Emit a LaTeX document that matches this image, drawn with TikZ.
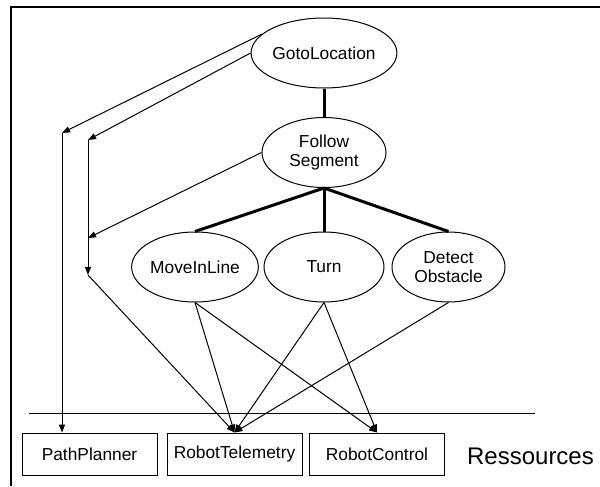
\documentclass[tikz,border=0pt]{standalone}
\usepackage{fontspec}
\setmainfont{Liberation Sans}
\usetikzlibrary{shapes.geometric,arrows.meta}

\begin{document}
\begin{tikzpicture}[x=0.75pt,y=-0.75pt,
    task/.style={draw,ellipse,line width=0.75pt,inner sep=0pt,minimum height=52.5pt,align=center,font=\fontsize{13}{14}\selectfont},
    res/.style={draw,rectangle,line width=0.75pt,inner sep=0pt,minimum width=101.25pt,minimum height=31.5pt,font=\fontsize{13}{14}\selectfont},
    tree/.style={line width=2.25pt},
    link/.style={line width=0.75pt,-{Triangle[length=6pt,width=4.5pt]}}]
    \useasboundingbox (0,0) rectangle (600,486);
    \draw[line width=1.5pt] (11,486) -- (11,7) -- (600,7);

    \node[task,minimum width=93pt] (goto) at (324,53) {GotoLocation};
    \node[task,minimum width=93pt] (follow) at (324,152.5) {Follow\\Segment};
    \node[task,minimum width=93pt] (moveline) at (195,267) {MoveInLine};
    \node[task,minimum width=90pt] (turn) at (324,267) {Turn};
    \node[task,minimum width=84.75pt] (detect) at (448.5,267) {Detect\\Obstacle};

    \node[res] (plan) at (89.5,454) {PathPlanner};
    \node[res] (tele) at (234.5,454) {RobotTelemetry};
    \node[res] (ctrl) at (377,454) {RobotControl};
    \node[font=\fontsize{18}{20}\selectfont] (ress) at (530.5,456) {Ressources};

    \draw[line width=0.75pt] (29,413) -- (535,413);

    \path[tree] (goto) edge (follow);
    \path[tree] (follow.south) edge (moveline.north);
    \path[tree] (follow.south) edge (turn.north);
    \path[tree] (follow.south) edge (detect.north);

    \coordinate (pp1) at (62,133);
    \coordinate (tj1) at (88,140);
    \coordinate (tj2) at (88,238);
    \coordinate (tj3) at (88,275);

    \path[link] (goto.163) edge (pp1);
    \path[link] (pp1) edge (pp1 |- plan.north);
    \path[link] (goto.west) edge (tj1);
    \path[link] (follow.west) edge (tj2);
    \path[link] (tj1) edge (tj3);
    \path[link] (tj3) edge (tele.north);

    \path[link] (moveline.south) edge (tele.north);
    \path[link] (moveline.south) edge (ctrl.north);
    \path[link] (turn.south) edge (tele.north);
    \path[link] (turn.south) edge (ctrl.north);
    \path[link] (detect.south) edge (tele.north);
\end{tikzpicture}
\end{document}
